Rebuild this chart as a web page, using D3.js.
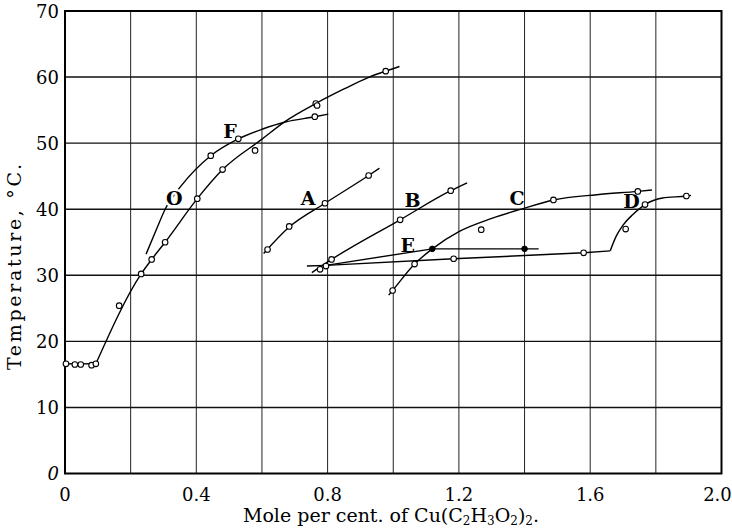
<!DOCTYPE html>
<html>
<head>
<meta charset="utf-8">
<script src="https://cdn.jsdelivr.net/npm/d3@7"></script>
<style>
  html, body { margin: 0; padding: 0; background: #fff; }
  svg { display: block; }
</style>
</head>
<body>
<svg id="chart" width="732" height="530"></svg>
<script>
// ---------- data ----------
const xTicks = [0, 0.4, 0.8, 1.2, 1.6, 2.0];
const xTickLabels = ["0", "0.4", "0.8", "1.2", "1.6", "2.0"];
const xGrid = [0.2, 0.4, 0.6, 0.8, 1.0, 1.2, 1.4, 1.6, 1.8];
const yTicks = [0, 10, 20, 30, 40, 50, 60, 70];
const yTickLabels = ["0", "10", "20", "30", "40", "50", "60", "70"];
const yGrid = [10, 20, 30, 40, 50, 60];

// curve O (from the origin)
const oFlatX = [0, 0.094];
const oFlatY = [16.6, 16.6];
const oCurveX = [0.094, 0.232, 0.264, 0.305, 0.403, 0.480, 0.6, 0.671, 0.764, 0.85, 0.927, 0.977, 1.019];
const oCurveY = [16.6, 30.2, 32.4, 35.0, 41.6, 46.0, 50.6, 53.3, 56.0, 58.2, 60.0, 60.9, 61.6];
const oPtsX = [0.003, 0.030, 0.048, 0.081, 0.094, 0.165, 0.232, 0.264, 0.305, 0.403, 0.480, 0.579, 0.764, 0.768, 0.977];
const oPtsY = [16.6, 16.5, 16.5, 16.4, 16.6, 25.4, 30.2, 32.4, 35.0, 41.6, 46.0, 48.9, 56.0, 55.7, 60.9];

// curve F
const fCurveX = [0.247, 0.279, 0.305, 0.355, 0.444, 0.528, 0.6, 0.671, 0.761, 0.802];
const fCurveY = [33.2, 37.0, 40.0, 43.6, 48.1, 50.65, 52.1, 53.2, 54.0, 54.4];
const fPtsX = [0.444, 0.528, 0.761];
const fPtsY = [48.1, 50.65, 54.0];

// curve A
const aCurveX = [0.605, 0.683, 0.792, 0.925, 0.958];
const aCurveY = [33.3, 37.3, 40.9, 45.1, 46.2];
const aPtsX = [0.617, 0.683, 0.792, 0.925];
const aPtsY = [33.9, 37.4, 40.9, 45.1];

// curve B
const bCurveX = [0.752, 0.812, 1.021, 1.175, 1.225];
const bCurveY = [30.4, 32.4, 38.4, 42.8, 44.0];
const bPtsX = [0.777, 0.812, 1.021, 1.175];
const bPtsY = [30.9, 32.4, 38.4, 42.8];

// curve C
const cCurveX = [0.986, 0.998, 1.065, 1.119, 1.2, 1.3, 1.396, 1.488, 1.62, 1.745, 1.788];
const cCurveY = [27.0, 27.7, 31.7, 34.0, 36.6, 38.6, 40.1, 41.4, 42.2, 42.7, 42.9];
const cPtsX = [0.998, 1.065, 1.268, 1.488, 1.745];
const cPtsY = [27.7, 31.7, 36.9, 41.4, 42.7];

// curve E (filled points)
const eLineX = [0.795, 1.119, 1.443];
const eLineY = [31.5, 34.0, 34.0];
const ePtsX = [1.119, 1.4];
const ePtsY = [34.0, 34.0];

// curve D (lower line, then rising)
const dFlatX = [0.737, 0.795, 1.184, 1.58, 1.661];
const dFlatY = [31.4, 31.5, 32.5, 33.4, 33.7];
const dRiseX = [1.661, 1.68, 1.70, 1.73, 1.767, 1.82, 1.893, 1.907];
const dRiseY = [33.7, 36.0, 37.6, 39.2, 40.7, 41.7, 42.0, 42.1];
const dPtsX = [0.795, 1.184, 1.58, 1.708, 1.767, 1.893];
const dPtsY = [31.4, 32.5, 33.4, 37.0, 40.7, 42.0];

// curve labels
const labelText = ["F", "O", "A", "B", "E", "C", "D"];
const labelX = [0.503, 0.333, 0.741, 1.059, 1.044, 1.377, 1.726];
const labelY = [51.9, 41.7, 41.7, 41.4, 34.6, 41.7, 41.2];

// ---------- drawing ----------
const svg = d3.select("#chart");
const mLeft = 65, mRight = 721.5, mTop = 11, mBottom = 473.5;
const x = d3.scaleLinear().domain([0, 2.0]).range([mLeft, mRight]);
const y = d3.scaleLinear().domain([0, 70]).range([mBottom, mTop]);
const serif = "'DejaVu Serif', 'Liberation Serif', serif";

const zip = (xs, ys) => xs.map((v, i) => [v, ys[i]]);

// grid
const g = svg.append("g");
g.selectAll("line.vg").data(xGrid).join("line")
  .attr("x1", d => x(d)).attr("x2", d => x(d))
  .attr("y1", mTop).attr("y2", mBottom)
  .attr("stroke", "#222").attr("stroke-width", 1);
g.selectAll("line.hg").data(yGrid).join("line")
  .attr("x1", mLeft).attr("x2", mRight)
  .attr("y1", d => y(d)).attr("y2", d => y(d))
  .attr("stroke", "#111").attr("stroke-width", 1.4);

// frame
svg.append("rect")
  .attr("x", mLeft).attr("y", mTop)
  .attr("width", mRight - mLeft).attr("height", mBottom - mTop)
  .attr("fill", "none").attr("stroke", "#000").attr("stroke-width", 2);

// tick labels
svg.append("g").selectAll("text").data(yTicks).join("text")
  .attr("x", mLeft - 6).attr("y", d => y(d))
  .attr("text-anchor", "end").attr("dominant-baseline", "central")
  .attr("font-family", serif).attr("font-size", 18)
  .attr("font-style", d => d === 0 ? "italic" : "normal")
  .text((d, i) => yTickLabels[i]);

svg.append("g").selectAll("text").data(xTicks).join("text")
  .attr("x", d => x(d)).attr("y", mBottom + 27)
  .attr("dx", (d, i) => i === xTicks.length - 1 ? -4 : 0)
  .attr("text-anchor", "middle")
  .attr("font-family", serif).attr("font-size", 18)
  .text((d, i) => xTickLabels[i]);

// axis titles
const xt = svg.append("text")
  .attr("x", 391).attr("y", 522)
  .attr("text-anchor", "middle")
  .attr("font-family", serif).attr("font-size", 19);
xt.append("tspan").text("Mole per cent. of Cu(C");
xt.append("tspan").attr("font-size", 12).attr("dy", 3).text("2");
xt.append("tspan").attr("dy", -3).text("H");
xt.append("tspan").attr("font-size", 12).attr("dy", 3).text("3");
xt.append("tspan").attr("dy", -3).text("O");
xt.append("tspan").attr("font-size", 12).attr("dy", 3).text("2");
xt.append("tspan").attr("dy", -3).text(")");
xt.append("tspan").attr("font-size", 12).attr("dy", 3).text("2");
xt.append("tspan").attr("dy", -3).text(".");

svg.append("text")
  .attr("transform", "translate(21,267) rotate(-90)")
  .attr("text-anchor", "middle")
  .attr("font-family", serif).attr("font-size", 19)
  .attr("textLength", 206).attr("lengthAdjust", "spacing")
  .text("Temperature, °C.");

// curves
const plot = svg.append("g");
const linLine = d3.line().x(d => x(d[0])).y(d => y(d[1])).curve(d3.curveLinear);
const smoothLine = d3.line().x(d => x(d[0])).y(d => y(d[1])).curve(d3.curveMonotoneX);

const paths = [
  [linLine, zip(oFlatX, oFlatY)],
  [smoothLine, zip(oCurveX, oCurveY)],
  [smoothLine, zip(fCurveX, fCurveY)],
  [smoothLine, zip(aCurveX, aCurveY)],
  [smoothLine, zip(bCurveX, bCurveY)],
  [smoothLine, zip(cCurveX, cCurveY)],
  [linLine, zip(eLineX, eLineY)],
  [linLine, zip(dFlatX, dFlatY)],
  [smoothLine, zip(dRiseX, dRiseY)]
];
paths.forEach(([gen, pts]) => {
  plot.append("path").attr("d", gen(pts))
    .attr("fill", "none").attr("stroke", "#000").attr("stroke-width", 1.4);
});

// labels (O sits on curve F, with a gap)
svg.append("g").selectAll("text").data(labelText).join("text")
  .attr("x", (d, i) => x(labelX[i])).attr("y", (d, i) => y(labelY[i]))
  .attr("text-anchor", "middle").attr("dominant-baseline", "central")
  .attr("font-family", serif).attr("font-size", 19).attr("font-weight", "bold")
  .attr("stroke", d => d === "O" ? "#fff" : "none")
  .attr("stroke-width", d => d === "O" ? 5 : 0)
  .attr("paint-order", "stroke")
  .text(d => d);

// open markers
const openSets = [
  zip(oPtsX, oPtsY), zip(fPtsX, fPtsY), zip(aPtsX, aPtsY),
  zip(bPtsX, bPtsY), zip(cPtsX, cPtsY), zip(dPtsX, dPtsY)
];
const mk = svg.append("g");
openSets.forEach(set => {
  mk.selectAll(null).data(set).join("circle")
    .attr("cx", d => x(d[0])).attr("cy", d => y(d[1])).attr("r", 2.8)
    .attr("fill", "#fff").attr("stroke", "#000").attr("stroke-width", 1.1);
});
mk.selectAll(null).data(zip(ePtsX, ePtsY)).join("circle")
  .attr("cx", d => x(d[0])).attr("cy", d => y(d[1])).attr("r", 2.8)
  .attr("fill", "#000").attr("stroke", "#000").attr("stroke-width", 1);
</script>
</body>
</html>
